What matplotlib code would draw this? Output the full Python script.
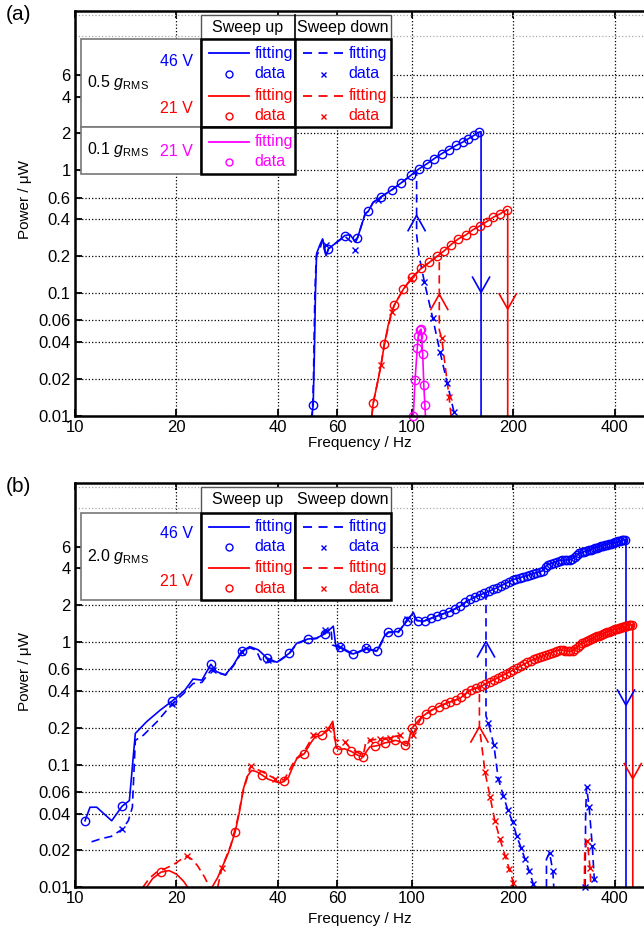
import matplotlib
matplotlib.use('Agg')
import matplotlib.pyplot as plt
from matplotlib.patches import Rectangle
from matplotlib.ticker import FixedLocator, FixedFormatter, NullLocator

plt.rcParams['font.family'] = ['Liberation Sans', 'DejaVu Sans']
plt.rcParams['mathtext.fontset'] = 'custom'
plt.rcParams['mathtext.rm'] = 'Liberation Sans'
plt.rcParams['mathtext.it'] = 'Liberation Sans:italic'

BLUE = '#0000ff'
RED = '#ff0000'
MAG = '#ff00ff'

xticks = [10, 20, 40, 60, 100, 200, 400]
xticklabels = ['10', '20', '40', '60', '100', '200', '400']
yticks = [0.01, 0.02, 0.04, 0.06, 0.1, 0.2, 0.4, 0.6, 1, 2, 4, 6]
yticklabels = ['0.01', '0.02', '0.04', '0.06', '0.1', '0.2', '0.4', '0.6', '1', '2', '4', '6']

# ---------------- (a) 0.5 g / 0.1 g ----------------
# 46 V, sweep up
a_b_up_fit_f = [50.4, 50.9, 51.3, 51.7, 52.1, 53.2, 54.3, 55.6, 56.5, 59.8, 63.2, 65.5, 67.5, 68.9,
                72.6, 74.2, 76.7, 80.7, 87.1, 92.7, 99.1, 104.9, 110.6, 116.5, 122.5, 128.8, 135.3,
                141.4, 146.9, 152.8, 158.1, 160.3, 160.3]
a_b_up_fit_p = [0.01, 0.0122, 0.03, 0.1, 0.21, 0.245, 0.277, 0.202, 0.230, 0.26, 0.295, 0.30, 0.268,
                0.282, 0.443, 0.465, 0.55, 0.605, 0.695, 0.788, 0.91, 1.03, 1.13, 1.25, 1.37, 1.48,
                1.60, 1.70, 1.81, 1.93, 2.05, 2.07, 0.01]
a_b_up_f = [50.9, 56.5, 63.2, 68.9, 74.2, 80.7, 87.1, 92.7, 99.1, 104.9, 110.6, 116.5, 122.5, 128.8,
            135.3, 141.4, 146.9, 152.8, 158.1]
a_b_up_p = [0.0122, 0.230, 0.295, 0.282, 0.465, 0.605, 0.695, 0.788, 0.91, 1.03, 1.13, 1.25, 1.37,
            1.48, 1.60, 1.70, 1.81, 1.93, 2.05]
# 46 V, sweep down
a_b_dn_fit_f = [133.2, 127.3, 121.1, 115.1, 108.9, 105.0, 103.2, 103.2, 99.1, 92.7, 87.1, 80.7, 76.7,
                74.2, 72.6, 68.9, 67.5, 63.2, 59.8, 56.5, 55.6, 54.3, 53.0, 52.0, 51.5, 51.0, 50.6]
a_b_dn_fit_p = [0.0108, 0.0184, 0.0333, 0.0634, 0.1225, 0.2, 0.3, 0.97, 0.91, 0.788, 0.695, 0.605,
                0.55, 0.465, 0.443, 0.282, 0.25, 0.29, 0.26, 0.23, 0.2, 0.27, 0.22, 0.2, 0.1, 0.02, 0.01]
a_b_dn_f = [133.2, 127.3, 121.1, 115.1, 108.9, 79.5, 67.9, 55.5]
a_b_dn_p = [0.0108, 0.0184, 0.0333, 0.0634, 0.1225, 0.57, 0.226, 0.249]
# 21 V, sweep up
a_r_up_fit_f = [76.0, 76.7, 78.8, 80.9, 82.8, 85.0, 87.1, 88.7, 94.3, 100.3, 106.4, 112.5, 118.8, 124.7,
                130.6, 137.2, 144.6, 151.4, 159.2, 166.6, 174.3, 182.5, 191.1, 192.3, 192.3]
a_r_up_fit_p = [0.01, 0.0127, 0.018, 0.0259, 0.0385, 0.055, 0.0706, 0.0805, 0.108, 0.136, 0.159, 0.178,
                0.20, 0.222, 0.249, 0.277, 0.299, 0.328, 0.354, 0.383, 0.416, 0.443, 0.478, 0.48, 0.01]
a_r_up_f = [76.7, 82.8, 88.7, 94.3, 100.3, 106.4, 112.5, 118.8, 124.7, 130.6, 137.2, 144.6, 151.4,
            159.2, 166.6, 174.3, 182.5, 191.1]
a_r_up_p = [0.0127, 0.0385, 0.0805, 0.108, 0.136, 0.159, 0.178, 0.20, 0.222, 0.249, 0.277, 0.299,
            0.328, 0.354, 0.383, 0.416, 0.443, 0.478]
# 21 V, sweep down
a_r_dn_fit_f = [130.6, 128.8, 122.5, 120.5, 120.5, 118.8, 112.5, 106.4, 99.4, 94.3, 88.7, 87.1, 82.8,
                80.9, 76.7, 76.0]
a_r_dn_fit_p = [0.01, 0.0144, 0.043, 0.05, 0.20, 0.20, 0.178, 0.159, 0.13, 0.108, 0.0805, 0.0706,
                0.0385, 0.0259, 0.0127, 0.01]
a_r_dn_f = [128.8, 122.5, 99.4, 87.1, 80.9]
a_r_dn_p = [0.0144, 0.043, 0.13, 0.0706, 0.0259]
# 0.1 g, 21 V
a_m_fit_f = [100.9, 102.1, 103.7, 104.4, 105.7, 106.4, 106.8, 107.6, 108.4, 109.2, 109.6]
a_m_fit_p = [0.01, 0.0196, 0.0361, 0.045, 0.050, 0.051, 0.0436, 0.0319, 0.0178, 0.0122, 0.01]
a_m_f = [100.9, 102.1, 103.7, 104.4, 105.7, 106.4, 106.8, 107.6, 108.4, 109.2]
a_m_p = [0.01, 0.0196, 0.0361, 0.045, 0.050, 0.051, 0.0436, 0.0319, 0.0178, 0.0122]
# jump arrows
a_arrow_f = [160.3, 103.2, 192.3, 120.5]
a_arrow_p = [0.1016, 0.43, 0.0743, 0.098]
a_arrow_up = [False, True, False, True]
a_arrow_c = [BLUE, BLUE, RED, RED]

# ---------------- (b) 2.0 g ----------------
b_b_up_fit_f = [10.71, 11.08, 11.6, 12.85, 13.8, 14.5, 15.1, 16.3, 17.9, 19.4, 21.2, 22.4, 23.8, 25.3,
                26.3, 27.9, 29.5, 31.2, 33.0, 35.0, 37.2, 39.7, 43.2, 45.5, 49.0, 52.1, 55.2, 58.4,
                59.4, 61.1, 66.9, 73.0, 78.8, 83.2, 85.1, 91.1, 96.9, 100.9, 103.2, 108.0, 114.4,
                121.1, 129.6, 138.8, 145.3, 155.5, 164.7, 178.4, 199.9, 224.1, 245.4, 251.2, 275.0,
                297.6, 315.3, 353.3, 395.9, 428.6, 431.5, 431.5]
b_b_up_fit_p = [0.0349, 0.045, 0.045, 0.0349, 0.0459, 0.051, 0.18, 0.224, 0.279, 0.330, 0.407, 0.50,
                0.49, 0.66, 0.575, 0.54, 0.65, 0.84, 0.92, 0.865, 0.74, 0.686, 0.81, 0.98, 1.06, 1.08,
                1.17, 1.35, 0.94, 0.92, 0.80, 0.89, 0.85, 1.15, 1.21, 1.22, 1.50, 1.75, 1.51, 1.48,
                1.57, 1.67, 1.78, 1.96, 2.15, 2.37, 2.52, 2.77, 3.24, 3.56, 3.84, 4.26, 4.64, 4.73,
                5.37, 5.90, 6.47, 6.88, 6.90, 0.01]
b_b_up_f = [10.71, 13.8, 19.4, 25.3, 31.2, 37.2, 43.2, 49.0, 55.2, 61.1, 66.9, 73.0, 78.8, 85.1, 91.1,
            96.9, 104, 109, 114, 119, 124, 129, 134, 139, 144, 149, 154, 159, 164, 169, 174, 179, 184,
            189, 194, 199, 204, 209, 214, 219, 224, 229, 234, 239, 244, 249, 254, 259, 264, 269, 274,
            279, 284, 289, 294, 299, 304, 309, 314, 319, 324, 329, 334, 339, 344, 349, 354, 359, 364,
            369, 374, 379, 384, 389, 394, 399, 404, 409, 414, 419, 424, 429]
b_b_up_p = [0.0349, 0.0459, 0.330, 0.66, 0.84, 0.74, 0.81, 1.06, 1.17, 0.92, 0.80, 0.89, 0.85, 1.21,
            1.22, 1.50, 1.50, 1.49, 1.56, 1.64, 1.70, 1.77, 1.86, 1.97, 2.11, 2.23, 2.34, 2.43, 2.51,
            2.60, 2.69, 2.78, 2.89, 3.00, 3.11, 3.22, 3.29, 3.36, 3.43, 3.49, 3.56, 3.62, 3.69, 3.75,
            3.82, 4.10, 4.30, 4.38, 4.46, 4.55, 4.63, 4.66, 4.68, 4.70, 4.72, 4.78, 4.97, 5.15, 5.33,
            5.42, 5.49, 5.56, 5.63, 5.70, 5.77, 5.84, 5.91, 5.98, 6.04, 6.11, 6.18, 6.24, 6.31, 6.38,
            6.45, 6.51, 6.57, 6.63, 6.70, 6.76, 6.82, 6.88]
b_b_dn_fit_f = [11.2, 12.0, 12.8, 13.8, 14.4, 14.8, 15.1, 15.95, 17.5, 19.4, 21.0, 22.4, 23.8, 25.3,
                26.5, 28.0, 29.5, 31.2, 33.0, 34.5, 35.5, 37.2, 39.7, 43.2, 45.5, 49.0, 52.1, 55.2,
                57.5, 58.0, 61.1, 66.9, 73.0, 78.8, 83.2, 85.1, 91.1, 96.9, 100.3, 103.2, 108.0, 114.4,
                121.1, 129.6, 138.8, 145.3, 155.5, 165.8, 165.8, 168.4, 175.0, 180.3, 186.6, 192.3,
                199.1, 204.6, 210.6, 216.4, 222.8, 229.1, 231.0]
b_b_dn_fit_p = [0.0235, 0.025, 0.026, 0.0297, 0.035, 0.045, 0.158, 0.174, 0.224, 0.312, 0.38, 0.46,
                0.47, 0.59, 0.56, 0.54, 0.64, 0.82, 0.90, 0.86, 0.72, 0.72, 0.68, 0.80, 0.97, 1.05,
                1.07, 1.20, 1.30, 0.95, 0.90, 0.79, 0.88, 0.84, 1.12, 1.20, 1.20, 1.52, 1.70, 1.50,
                1.48, 1.57, 1.67, 1.78, 1.96, 2.15, 2.37, 2.53, 0.25, 0.221, 0.144, 0.0768, 0.056,
                0.0428, 0.0339, 0.026, 0.0211, 0.017, 0.0135, 0.0106, 0.01]
b_b_dn2_f = [250.6, 250.6, 255.9, 261.7, 263.5]
b_b_dn2_p = [0.01, 0.017, 0.0192, 0.0136, 0.01]
b_b_dn3_f = [326.5, 327.5, 329.6, 335.5, 342.7, 347.5, 349.0]
b_b_dn3_p = [0.01, 0.04, 0.0656, 0.045, 0.0218, 0.0116, 0.01]
b_b_dn_f = [13.8, 19.4, 25.6, 31.3, 37.5, 55.2, 61.1, 73.0, 96.9, 168.4, 175.0, 180.3, 186.6, 192.3,
            199.1, 204.6, 210.6, 216.4, 222.8, 229.1, 255.9, 261.7, 326.5, 329.6, 335.5, 342.7, 347.5]
b_b_dn_p = [0.0297, 0.312, 0.593, 0.83, 0.716, 1.26, 0.91, 0.89, 1.55, 0.221, 0.144, 0.0768, 0.056,
            0.0428, 0.0339, 0.026, 0.0211, 0.017, 0.0135, 0.0106, 0.0192, 0.0136, 0.01, 0.0656,
            0.045, 0.0218, 0.0116]
b_r_up1_f = [16.3, 17.0, 18.0, 19.0, 20.0, 21.0, 21.6]
b_r_up1_p = [0.01, 0.0118, 0.0133, 0.0137, 0.0128, 0.0112, 0.01]
b_r_up_fit_f = [25.5, 26.5, 27.3, 28.5, 29.85, 30.8, 31.6, 32.4, 33.4, 34.5, 35.8, 37.5, 39.2, 40.5,
                41.7, 43.0, 44.2, 45.5, 47.9, 50.0, 51.5, 53.9, 56.0, 58.2, 59.6, 61.0, 63.0, 65.8,
                69.3, 71.7, 73.5, 75.0, 77.6, 80.5, 83.2, 86.0, 89.1, 92.0, 95.3, 97.0, 99.7, 106.9,
                114.4, 122.5, 131.5, 138.8, 148.8, 159.2, 170.6, 186.9, 199.9, 224.1, 251.2, 275.0,
                297.6, 320.0, 353.3, 395.9, 438.0, 452.0, 452.0]
b_r_up_fit_p = [0.01, 0.012, 0.0145, 0.019, 0.0281, 0.042, 0.0636, 0.08, 0.0898, 0.088, 0.0828, 0.076,
                0.073, 0.071, 0.073, 0.079, 0.095, 0.112, 0.123, 0.15, 0.168, 0.174, 0.19, 0.226,
                0.137, 0.133, 0.135, 0.129, 0.119, 0.116, 0.13, 0.14, 0.142, 0.145, 0.151, 0.153,
                0.158, 0.155, 0.144, 0.143, 0.197, 0.246, 0.279, 0.306, 0.33, 0.348, 0.406, 0.433,
                0.476, 0.54, 0.593, 0.703, 0.797, 0.865, 0.839, 0.981, 1.11, 1.26, 1.37, 1.39, 0.01]
b_r_up_f = [18.0, 29.85, 35.8, 41.7, 47.9, 53.9, 59.8, 65.8, 69.3, 71.7, 77.6, 83.2, 89.1, 95.3,
            100, 105, 110, 115, 120, 125, 130, 135, 140, 145, 150, 155, 160, 165, 170, 175, 180, 185,
            190, 195, 200, 205, 210, 215, 220, 225, 230, 235, 240, 245, 250, 255, 260, 265, 270, 275,
            280, 285, 290, 295, 300, 305, 310, 315, 320, 325, 330, 335, 340, 345, 350, 355, 360, 365,
            370, 375, 380, 385, 390, 395, 400, 405, 410, 415, 420, 425, 430, 435, 440, 445, 450]
b_r_up_p = [0.0133, 0.0281, 0.0828, 0.073, 0.123, 0.174, 0.133, 0.129, 0.119, 0.116, 0.142, 0.151,
            0.158, 0.144,
            0.199, 0.233, 0.259, 0.281, 0.298, 0.313, 0.325, 0.339, 0.355, 0.384, 0.409, 0.422, 0.436,
            0.455, 0.474, 0.494, 0.514, 0.532, 0.553, 0.573, 0.593, 0.616, 0.639, 0.661, 0.684, 0.706,
            0.724, 0.741, 0.759, 0.776, 0.793, 0.807, 0.822, 0.836, 0.851, 0.865, 0.859, 0.853, 0.848,
            0.842, 0.854, 0.886, 0.917, 0.949, 0.981, 1.00, 1.02, 1.04, 1.06, 1.08, 1.10, 1.12, 1.13,
            1.15, 1.17, 1.19, 1.20, 1.22, 1.24, 1.26, 1.27, 1.28, 1.30, 1.31, 1.32, 1.33, 1.35, 1.36,
            1.37, 1.38, 1.39]
b_r_dn1_f = [15.9, 16.6, 17.4, 18.4, 19.6, 20.6, 21.5, 22.3, 23.1, 24.2, 25.1]
b_r_dn1_p = [0.01, 0.0118, 0.0132, 0.0141, 0.0153, 0.0168, 0.018, 0.0168, 0.015, 0.0122, 0.01]
b_r_dn_fit_f = [26.5, 27.3, 29.0, 30.3, 31.5, 33.2, 35.8, 39.2, 41.7, 45.0, 48.0, 51.0, 53.9, 56.5,
                58.0, 59.0, 63.3, 65.8, 69.3, 71.7, 73.0, 75.1, 80.2, 86.0, 92.2, 95.3, 97.0, 100.4,
                106.9, 114.4, 122.5, 131.5, 138.8, 148.8, 158.5, 158.5, 164.7, 170.6, 176.1, 182.5,
                188.9, 194.4, 199.9, 201.5]
b_r_dn_fit_p = [0.01, 0.0145, 0.022, 0.035, 0.06, 0.097, 0.088, 0.077, 0.075, 0.11, 0.13, 0.174, 0.18,
                0.195, 0.22, 0.16, 0.153, 0.135, 0.125, 0.12, 0.155, 0.158, 0.163, 0.166, 0.174, 0.15,
                0.15, 0.174, 0.246, 0.279, 0.306, 0.33, 0.348, 0.406, 0.43, 0.204, 0.0871, 0.0543,
                0.0349, 0.0247, 0.0181, 0.0141, 0.0109, 0.01]
b_r_dn3_f = [324.6, 325.5, 331.0, 337.4, 339.5]
b_r_dn3_p = [0.01, 0.02, 0.024, 0.0145, 0.01]
b_r_dn_f = [21.5, 27.3, 33.2, 39.2, 51.0, 56.5, 63.3, 75.1, 80.2, 86.0, 92.2, 100.4, 164.7, 170.6,
            176.1, 182.5, 188.9, 194.4, 199.9, 331.0, 337.4]
b_r_dn_p = [0.018, 0.0145, 0.097, 0.077, 0.174, 0.195, 0.153, 0.158, 0.163, 0.166, 0.174, 0.174,
            0.0871, 0.0543, 0.0349, 0.0247, 0.0181, 0.0141, 0.0109, 0.024, 0.0145]
b_arrow_f = [431.5, 165.8, 452.0, 158.5]
b_arrow_p = [0.306, 1.01, 0.0768, 0.204]
b_arrow_up = [False, True, False, True]
b_arrow_c = [BLUE, BLUE, RED, RED]

W, H = 644, 931
fig = plt.figure(figsize=(W / 100, H / 100), dpi=100)
DASH = (5.0, 3.0)
LW = 1.2


def px_axes(l, t, r, b):
    return fig.add_axes([l / W, 1 - b / H, (r - l) / W, (b - t) / H])


def setup(ax):
    ax.set_xscale('log')
    ax.set_yscale('log')
    ax.set_xlim(10, 488)
    ax.set_ylim(0.01, 20)
    ax.xaxis.set_major_locator(FixedLocator(xticks))
    ax.xaxis.set_major_formatter(FixedFormatter(xticklabels))
    ax.yaxis.set_major_locator(FixedLocator(yticks))
    ax.yaxis.set_major_formatter(FixedFormatter(yticklabels))
    ax.xaxis.set_minor_locator(NullLocator())
    ax.yaxis.set_minor_locator(NullLocator())
    ax.tick_params(which='major', direction='in', length=5, width=1.3, top=True, right=False,
                   labelsize=12, pad=3)
    ax.grid(True, which='major', color='k', linestyle=':', linewidth=0.9)
    for y in (12.4, 18.5):
        ax.axhline(y, color='#aaaaaa', linestyle=':', linewidth=0.9)
    for s in ('left', 'bottom', 'top'):
        ax.spines[s].set_linewidth(1.8)
    ax.spines['right'].set_visible(False)
    ax.set_xlabel('Frequency / Hz', fontsize=11)
    ax.set_ylabel('Power / \u03bcW', fontsize=11)
    ax.xaxis.label.set_va('center')
    ax.yaxis.label.set_va('center')


def fit(ax, f, p, color, dashed=False):
    line, = ax.plot(f, p, color=color, lw=LW)
    if dashed:
        line.set_dashes(DASH)


def data(ax, f, p, color, marker='o'):
    if marker == 'o':
        ax.plot(f, p, ls='none', marker='o', mfc='none', mec=color, ms=6, mew=1.0, clip_on=False)
    else:
        ax.plot(f, p, ls='none', marker='x', color=color, ms=4, mew=1.0, clip_on=False)


def arrows(ax, fs, ps, ups, cs):
    for f, p, up, c in zip(fs, ps, ups, cs):
        k = 1 / 1.33 if up else 1.33
        ax.plot([f / 1.06, f, f * 1.06], [p * k, p, p * k], color=c, lw=LW)


# panel (a)
axa = px_axes(75, 10.7, 644, 416)
setup(axa)
axa.xaxis.set_label_coords(0.5, -(443 - 416) / 405.3)
axa.yaxis.set_label_coords((25 - 75) / 569, 0.533)
fit(axa, a_b_up_fit_f, a_b_up_fit_p, BLUE)
fit(axa, a_b_dn_fit_f, a_b_dn_fit_p, BLUE, dashed=True)
fit(axa, a_r_up_fit_f, a_r_up_fit_p, RED)
fit(axa, a_r_dn_fit_f, a_r_dn_fit_p, RED, dashed=True)
fit(axa, a_m_fit_f, a_m_fit_p, MAG)
data(axa, a_b_up_f, a_b_up_p, BLUE)
data(axa, a_b_dn_f, a_b_dn_p, BLUE, 'x')
data(axa, a_r_up_f, a_r_up_p, RED)
data(axa, a_r_dn_f, a_r_dn_p, RED, 'x')
data(axa, a_m_f, a_m_p, MAG)
arrows(axa, a_arrow_f, a_arrow_p, a_arrow_up, a_arrow_c)

# panel (b)
axb = px_axes(75, 482.7, 644, 887.3)
setup(axb)
axb.xaxis.set_label_coords(0.5, -(919 - 887.3) / 404.6)
axb.yaxis.set_label_coords((25 - 75) / 569, 0.533)
fit(axb, b_b_up_fit_f, b_b_up_fit_p, BLUE)
fit(axb, b_b_dn_fit_f, b_b_dn_fit_p, BLUE, dashed=True)
fit(axb, b_b_dn2_f, b_b_dn2_p, BLUE, dashed=True)
fit(axb, b_b_dn3_f, b_b_dn3_p, BLUE, dashed=True)
fit(axb, b_r_up1_f, b_r_up1_p, RED)
fit(axb, b_r_up_fit_f, b_r_up_fit_p, RED)
fit(axb, b_r_dn1_f, b_r_dn1_p, RED, dashed=True)
fit(axb, b_r_dn_fit_f, b_r_dn_fit_p, RED, dashed=True)
fit(axb, b_r_dn3_f, b_r_dn3_p, RED, dashed=True)
data(axb, b_b_up_f, b_b_up_p, BLUE)
data(axb, b_b_dn_f, b_b_dn_p, BLUE, 'x')
data(axb, b_r_up_f, b_r_up_p, RED)
data(axb, b_r_dn_f, b_r_dn_p, RED, 'x')
arrows(axb, b_arrow_f, b_arrow_p, b_arrow_up, b_arrow_c)

# legend tables, drawn in pixel space on top
ov = fig.add_axes([0, 0, 1, 1], zorder=10)
ov.set_xlim(0, W)
ov.set_ylim(H, 0)
ov.axis('off')
GRAY = '#777777'
LFS = 11.5


def box(x, y, w, h, ec, lw):
    ov.add_patch(Rectangle((x, y), w, h, facecolor='white', edgecolor=ec, lw=lw))


def entry(x0, y, color, kind, label):
    if kind == 'solid':
        ov.plot([x0, x0 + 40], [y, y], color=color, lw=1.3)
    elif kind == 'dashed':
        l, = ov.plot([x0, x0 + 40], [y, y], color=color, lw=1.3)
        l.set_dashes((5, 3.6))
    elif kind == 'o':
        ov.plot([x0 + 19.5], [y], marker='o', mfc='none', mec=color, ms=5, mew=1.0)
    else:
        ov.plot([x0 + 19.5], [y], marker='x', color=color, ms=3.6, mew=1.0)
    ov.text(x0 + 45, y, label, color=color, fontsize=LFS, ha='left', va='center')


def header(top, bottom, divider):
    box(201, top, 190, bottom - top, '#555555', 1.0)
    if divider:
        ov.plot([295, 295], [top, bottom], color='k', lw=1.2)
    yc = (top + bottom) / 2
    ov.text(248, yc, 'Sweep up', fontsize=LFS, ha='center', va='center')
    ov.text(343, yc, 'Sweep down', fontsize=LFS, ha='center', va='center')


# (a)
header(15, 39.3, True)
box(80.7, 39.3, 120.3, 88, GRAY, 1.2)
box(80.7, 127.3, 120.3, 46.4, GRAY, 1.2)
box(201, 39.3, 94, 88, 'k', 1.8)
box(295, 39.3, 96, 88, 'k', 1.8)
box(201, 127.3, 94, 46.4, 'k', 1.8)
ov.text(87.3, 87.5, r'0.5 $g_{\mathrm{RMS}}$', fontsize=LFS, ha='left', va='baseline')
ov.text(192.7, 61.7, '46 V', color=BLUE, fontsize=LFS, ha='right', va='center')
ov.text(192.7, 108.3, '21 V', color=RED, fontsize=LFS, ha='right', va='center')
ov.text(87.3, 154, r'0.1 $g_{\mathrm{RMS}}$', fontsize=LFS, ha='left', va='baseline')
ov.text(192.7, 151.7, '21 V', color=MAG, fontsize=LFS, ha='right', va='center')
entry(209.3, 53.3, BLUE, 'solid', 'fitting')
entry(209.3, 74.0, BLUE, 'o', 'data')
entry(209.3, 95.7, RED, 'solid', 'fitting')
entry(209.3, 115.7, RED, 'o', 'data')
entry(303.3, 53.3, BLUE, 'dashed', 'fitting')
entry(303.3, 74.0, BLUE, 'x', 'data')
entry(303.3, 95.7, RED, 'dashed', 'fitting')
entry(303.3, 115.7, RED, 'x', 'data')
entry(209.3, 141.7, MAG, 'solid', 'fitting')
entry(209.3, 162.0, MAG, 'o', 'data')

# (b)
header(486.7, 512.7, False)
box(80.7, 512.7, 120.3, 87.3, GRAY, 1.2)
box(201, 512.7, 94, 87.3, 'k', 1.8)
box(295, 512.7, 96, 87.3, 'k', 1.8)
ov.text(87.3, 560.7, r'2.0 $g_{\mathrm{RMS}}$', fontsize=LFS, ha='left', va='baseline')
ov.text(192.7, 533.3, '46 V', color=BLUE, fontsize=LFS, ha='right', va='center')
ov.text(192.7, 581.7, '21 V', color=RED, fontsize=LFS, ha='right', va='center')
entry(209.3, 526.7, BLUE, 'solid', 'fitting')
entry(209.3, 546.7, BLUE, 'o', 'data')
entry(209.3, 567.7, RED, 'solid', 'fitting')
entry(209.3, 588.3, RED, 'o', 'data')
entry(303.3, 526.7, BLUE, 'dashed', 'fitting')
entry(303.3, 546.7, BLUE, 'x', 'data')
entry(303.3, 567.7, RED, 'dashed', 'fitting')
entry(303.3, 588.3, RED, 'x', 'data')

ov.text(6, 15, '(a)', fontsize=15, ha='left', va='center')
ov.text(6, 486, '(b)', fontsize=15, ha='left', va='center')

fig.savefig('out.png', dpi=100)
